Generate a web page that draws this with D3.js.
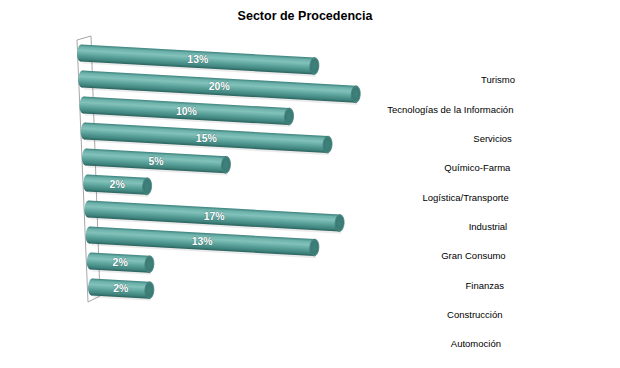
<!DOCTYPE html>
<html>
<head>
<meta charset="utf-8">
<script src="https://cdn.jsdelivr.net/npm/d3@7"></script>
<style>
  body { margin: 0; background: #fff; }
  svg { display: block; font-family: "Liberation Sans", Arial, sans-serif; }
</style>
</head>
<body>
<div id="chart"></div>
<script>
const categories = ["Turismo", "Tecnologías de la Información", "Servicios", "Químico-Farma",
    "Logística/Transporte", "Industrial", "Gran Consumo", "Finanzas", "Construcción", "Automoción"];
const values = [12.6, 20, 9.5, 14.6, 4.7, 1.95, 16.7, 12.6, 2, 2];
const valueLabels = ["13%", "20%", "10%", "15%", "5%", "2%", "17%", "13%", "2%", "2%"];

const width = 620;
const height = 368;
const SLANT = 3.2; // degrees the cylinders tilt down
const R = 8.5;

const svg = d3.select("#chart").append("svg")
    .attr("width", width)
    .attr("height", height);

const defs = svg.append("defs");
const grad = defs.append("linearGradient")
    .attr("id", "cyl")
    .attr("x1", 0).attr("y1", 0).attr("x2", 0).attr("y2", 1);
[["0%", "#3d837d"], ["15%", "#6cb1aa"], ["35%", "#82c2bb"], ["62%", "#5aa29b"], ["86%", "#3f837d"], ["100%", "#2a615d"]]
    .forEach(([o, c]) => grad.append("stop").attr("offset", o).attr("stop-color", c));

const capGrad = defs.append("radialGradient").attr("id", "cap");
capGrad.append("stop").attr("offset", "0%").attr("stop-color", "#3f827c");
capGrad.append("stop").attr("offset", "80%").attr("stop-color", "#3a7a74");
capGrad.append("stop").attr("offset", "100%").attr("stop-color", "#5f9e98");

// scales
const y = d3.scaleBand().domain(categories).range([40, 300]);
const xStart = d3.scaleLinear().domain([0, categories.length - 1]).range([81, 92]);
// log value axis: end of each cylinder (cap centre)
const xEnd = d3.scaleLog().domain([1, 100]).range([87.3, 500.7]);
const len = (i) => xEnd(values[i]) - xStart(i);
const labelY = d3.scalePoint().domain(categories).range([80, 344]);
const labelX = d3.scaleLinear().domain([0, categories.length - 1]).range([515, 501]);

// title
svg.append("text")
    .attr("x", 305).attr("y", 20)
    .attr("text-anchor", "middle")
    .attr("font-size", "12.5px")
    .attr("font-weight", "bold")
    .attr("fill", "#000")
    .text("Sector de Procedencia");

// side wall
const wall = svg.append("g")
    .attr("fill", "none")
    .attr("stroke", "#a6a6a6")
    .attr("stroke-width", 1);
wall.append("path").attr("d", "M91,36 L100,296");
wall.append("path").attr("d", "M77,40 L91,36");
wall.append("path").attr("d", "M77,40 L88,302 L100,296");

// bars
const slope = Math.tan(SLANT * Math.PI / 180);
const bars = svg.selectAll(".bar")
    .data(categories)
    .enter()
    .append("g")
    .attr("class", "bar")
    .attr("transform", (d, i) => `translate(${xStart(i)},${y(d) + y.bandwidth() / 2}) rotate(${SLANT})`);

bars.append("rect")
    .attr("x", 2).attr("y", R - 1)
    .attr("width", (d, i) => len(i))
    .attr("height", 3)
    .attr("fill", "#000")
    .attr("opacity", 0.08);

bars.append("ellipse")
    .attr("cx", 0).attr("cy", 0)
    .attr("rx", 4).attr("ry", R)
    .attr("fill", "url(#cyl)");

bars.append("rect")
    .attr("x", 0).attr("y", -R)
    .attr("width", (d, i) => len(i))
    .attr("height", 2 * R)
    .attr("fill", "url(#cyl)");

bars.append("ellipse")
    .attr("cx", (d, i) => len(i))
    .attr("cy", 0)
    .attr("rx", 4.5).attr("ry", R)
    .attr("fill", "url(#cap)")
    .attr("stroke", "#2f6964")
    .attr("stroke-width", 0.6);

// value labels
svg.selectAll(".val")
    .data(categories)
    .enter()
    .append("text")
    .attr("class", "val")
    .attr("x", (d, i) => xStart(i) + len(i) / 2)
    .attr("y", (d, i) => y(d) + y.bandwidth() / 2 + slope * len(i) / 2)
    .attr("dy", "0.36em")
    .attr("text-anchor", "middle")
    .attr("font-size", "10.5px")
    .attr("font-weight", "bold")
    .attr("fill", "#fff")
    .attr("stroke", "#2b5f5b")
    .attr("stroke-width", 0.5)
    .attr("paint-order", "stroke")
    .text((d, i) => valueLabels[i]);

// category labels
svg.selectAll(".cat")
    .data(categories)
    .enter()
    .append("text")
    .attr("class", "cat")
    .attr("x", (d, i) => labelX(i))
    .attr("y", d => labelY(d))
    .attr("dy", "0.35em")
    .attr("text-anchor", "end")
    .attr("font-size", "9.5px")
    .attr("fill", "#000")
    .text(d => d);
</script>
</body>
</html>
